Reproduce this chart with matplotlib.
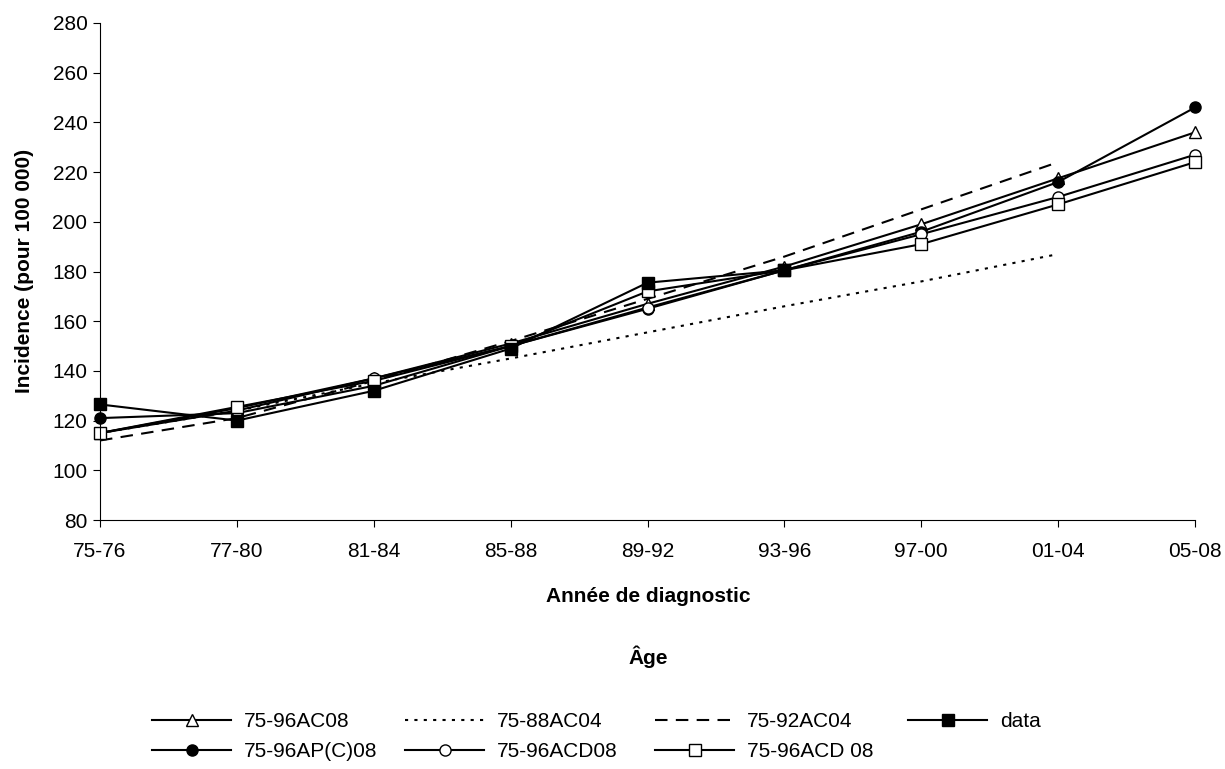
import matplotlib
matplotlib.use("Agg")
import matplotlib.pyplot as plt
import numpy as np

plt.rcParams['font.family'] = ['Liberation Sans', 'DejaVu Sans']

periodes = ["75-76", "77-80", "81-84", "85-88", "89-92", "93-96", "97-00", "01-04", "05-08"]

ac08 = [115, 125, 137, 151, 167, 182, 199, 217.5, 236]
ac04_88 = [115, 124, 135, 145, 155.5, 166, 176, 187]
ac04_92 = [112, 121, 136, 152, 169, 186, 205, 224]
data = [126.5, 120, 132, 149, 175.5, 180.5]
apc08 = [121, 123, 134, 150, 165, 180.5, 196, 216, 246]
acd08 = [115, 124, 137, 150, 165.5, 180.5, 195, 210, 227]
acd_08 = [115, 125.5, 136, 150, 172, 180.5, 191, 207, 224]

W, H = 1225, 769
fig = plt.figure(figsize=(W / 100, H / 100), dpi=100)
ax = fig.add_axes([100/W, 249/H, 1095/W, 497/H])

x = np.arange(len(periodes))
ms = 8
lw = 1.5
kw = dict(color='black', lw=lw, clip_on=False)
h_ac08, = ax.plot(x[:len(ac08)], ac08, marker='^', ms=ms, mfc='white', mec='black', label='75-96AC08', **kw)
h_88, = ax.plot(x[:len(ac04_88)], ac04_88, ls=(0, (1.5, 3)), label='75-88AC04', **kw)
h_92, = ax.plot(x[:len(ac04_92)], ac04_92, ls=(0, (6, 4)), label='75-92AC04', **kw)
h_apc, = ax.plot(x[:len(apc08)], apc08, marker='o', ms=ms, mfc='black', mec='black', label='75-96AP(C)08', **kw)
h_acd, = ax.plot(x[:len(acd08)], acd08, marker='o', ms=ms, mfc='white', mec='black', label='75-96ACD08', **kw)
h_acd2, = ax.plot(x[:len(acd_08)], acd_08, marker='s', ms=ms, mfc='white', mec='black', label='75-96ACD 08', **kw)
h_data, = ax.plot(x[:len(data)], data, marker='s', ms=ms, mfc='black', mec='black', label='data', **kw)

fs = 15
ax.set_xlim(0, len(periodes) - 1)
ax.set_ylim(80, 280)
ax.set_yticks(np.arange(80, 281, 20))
ax.set_xticks(x)
ax.set_xticklabels(periodes)
ax.spines['top'].set_visible(False)
ax.spines['right'].set_visible(False)
ax.tick_params(labelsize=fs, length=5, direction='out')
ax.tick_params(axis='x', pad=11)
ax.tick_params(axis='y', pad=4)

ax.set_xlabel("Année de diagnostic", fontsize=fs, fontweight='bold')
ax.xaxis.set_label_coords((648 - 100) / 1095, (520 - 597) / 497)
ax.xaxis.label.set_va('center')
ax.set_ylabel("Incidence (pour 100 000)", fontsize=fs, fontweight='bold')
ax.yaxis.set_label_coords((25 - 100) / 1095, (520 - 271) / 497)
ax.yaxis.label.set_va('center')
fig.text(648 / W, 1 - 657 / H, "Âge", fontsize=fs, fontweight='bold', ha='center', va='center')

# legende en 4 colonnes, comme Excel
colonnes = [[h_ac08, h_apc], [h_88, h_acd], [h_92, h_acd2], [h_data]]
x_col = [152, 405, 655, 908]
for hs, xc in zip(colonnes, x_col):
    fig.legend(handles=hs, labels=[h.get_label() for h in hs], frameon=False,
               loc='upper left', bbox_to_anchor=(xc / W, 1 - 712 / H), fontsize=fs,
               handlelength=3.8, handletextpad=0.6, labelspacing=0.55,
               borderpad=0, borderaxespad=0)

fig.savefig("out.png", dpi=100)
